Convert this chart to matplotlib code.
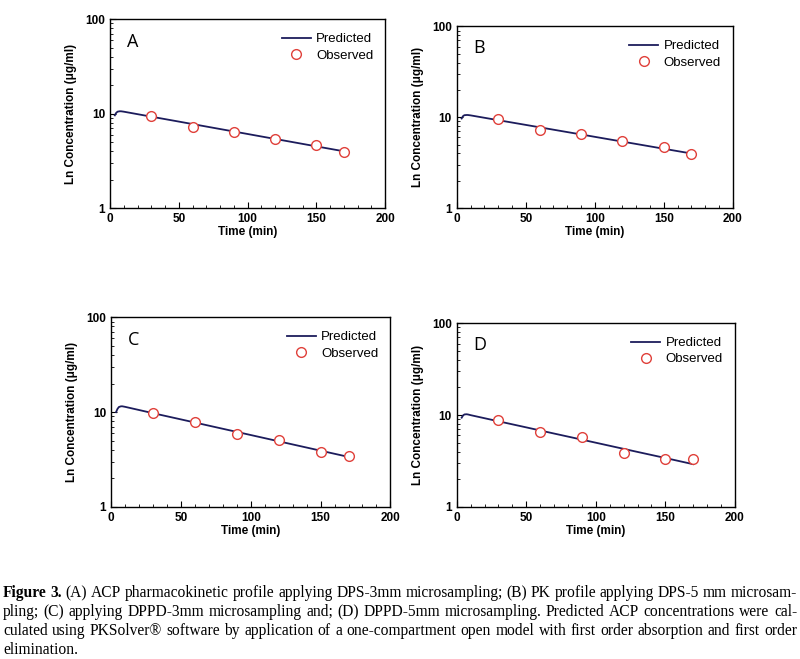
import numpy as np
import matplotlib.pyplot as plt
from matplotlib.ticker import FixedLocator, LogLocator, NullFormatter, MultipleLocator

plt.rcParams['font.family'] = ['Liberation Sans', 'DejaVu Sans']

# observed sampling times (min)
t_obs = [30, 60, 90, 120, 150, 170]
# predicted curve times (min)
t_pred = [3.5, 4.5, 5.5, 7, 8, 10, 30, 50, 70, 90, 110, 130, 150, 170]

obs_A = [9.4, 7.2, 6.45, 5.45, 4.65, 3.93]
pred_A = [9.6, 10.2, 10.5, 10.6, 10.6, 10.5, 9.3, 8.25, 7.31, 6.48, 5.74, 5.09, 4.51, 4.0]

obs_B = [9.5, 7.27, 6.5, 5.5, 4.69, 3.97]
pred_B = [9.7, 10.3, 10.55, 10.6, 10.6, 10.5, 9.3, 8.25, 7.31, 6.48, 5.74, 5.09, 4.51, 4.0]

obs_C = [9.84, 7.9, 5.9, 5.02, 3.75, 3.46]
pred_C = [10.0, 10.8, 11.3, 11.5, 11.5, 11.35, 9.73, 8.37, 7.19, 6.18, 5.31, 4.56, 3.92, 3.37]

obs_D = [8.75, 6.6, 5.78, 3.84, 3.34, 3.34]
pred_D = [9.36, 9.9, 10.15, 10.2, 10.15, 9.97, 8.55, 7.34, 6.29, 5.40, 4.63, 3.97, 3.41, 2.92]

panels = [
    ("A", obs_A, pred_A, [0.1375, 0.684, 0.344, 0.287]),
    ("B", obs_B, pred_B, [0.571, 0.684, 0.345, 0.276]),
    ("C", obs_C, pred_C, [0.139, 0.2307, 0.349, 0.288]),
    ("D", obs_D, pred_D, [0.571, 0.2307, 0.3475, 0.279]),
]

fig = plt.figure(figsize=(8, 6.59), dpi=100)

for letter, obs, pred, pos in panels:
    ax = fig.add_axes(pos)
    ax.plot(t_pred, pred, color='#1c1c5c', lw=1.3, label='Predicted')
    ax.plot(t_obs, obs, 'o', mfc='white', mec='#e0403a', ms=7, mew=1.0,
            label='Observed', zorder=3)
    ax.set_yscale('log')
    ax.set_xlim(0, 200)
    ax.set_ylim(1, 100)
    ax.xaxis.set_major_locator(MultipleLocator(50))
    ax.xaxis.set_minor_locator(MultipleLocator(10))
    ax.yaxis.set_major_locator(FixedLocator([1, 10, 100]))
    ax.yaxis.set_minor_locator(LogLocator(base=10, subs=np.arange(2, 10)))
    ax.yaxis.set_minor_formatter(NullFormatter())
    ax.set_yticklabels(['1', '10', '100'])
    ax.tick_params(which='both', direction='in', top=False, right=False)
    ax.tick_params(which='major', length=4, labelsize=8.5)
    ax.tick_params(which='minor', length=2)
    for lab in ax.get_xticklabels() + ax.get_yticklabels():
        lab.set_fontweight('bold')
    for sp in ax.spines.values():
        sp.set_linewidth(1.0)
    ax.set_xlabel('Time (min)', fontsize=8.5, fontweight='bold', labelpad=1)
    ax.set_ylabel('Ln Concentration (\u03bcg/ml)', fontsize=8.5, fontweight='bold', labelpad=6)
    ax.text(0.06, 0.88, letter, transform=ax.transAxes, fontsize=13,
            family=['Open Sans', 'DejaVu Sans'], va='center', ha='left')
    ax.legend(loc='upper right', frameon=False, fontsize=9.5, handlelength=2.2,
              handletextpad=0.4, labelspacing=0.3, borderaxespad=0.3,
              bbox_to_anchor=(0.99, 0.975))

# caption, justified word by word
caption = [
    "Figure 3. (A) ACP pharmacokinetic profile applying DPS-3mm microsampling; (B) PK profile applying DPS-5 mm microsam-",
    "pling; (C) applying DPPD-3mm microsampling and; (D) DPPD-5mm microsampling. Predicted ACP concentrations were cal-",
    "culated using PKSolver\u00ae software by application of a one-compartment open model with first order absorption and first order",
    "elimination.",
]
ys = [593, 612, 631, 650]
x0, x1 = 3, 797
fs = 11.2
renderer = fig.canvas.get_renderer()
for i, (line, y) in enumerate(zip(caption, ys)):
    yf = 1 - y / 659
    words = line.split(' ')
    arts = []
    for j, w in enumerate(words):
        bold = (i == 0 and j < 2)
        arts.append(fig.text(0, yf, w, fontsize=fs, family='Liberation Serif',
                             fontweight='bold' if bold else 'normal',
                             va='center', ha='left'))
    widths = [a.get_window_extent(renderer).width for a in arts]
    if i < len(caption) - 1 and len(words) > 1:
        gap = (x1 - x0 - sum(widths)) / (len(words) - 1)
    else:
        gap = fs * 0.25 * 100 / 72
    x = x0
    for a, w in zip(arts, widths):
        a.set_x(x / 800)
        x += w + gap

fig.savefig('out.png', dpi=100)
